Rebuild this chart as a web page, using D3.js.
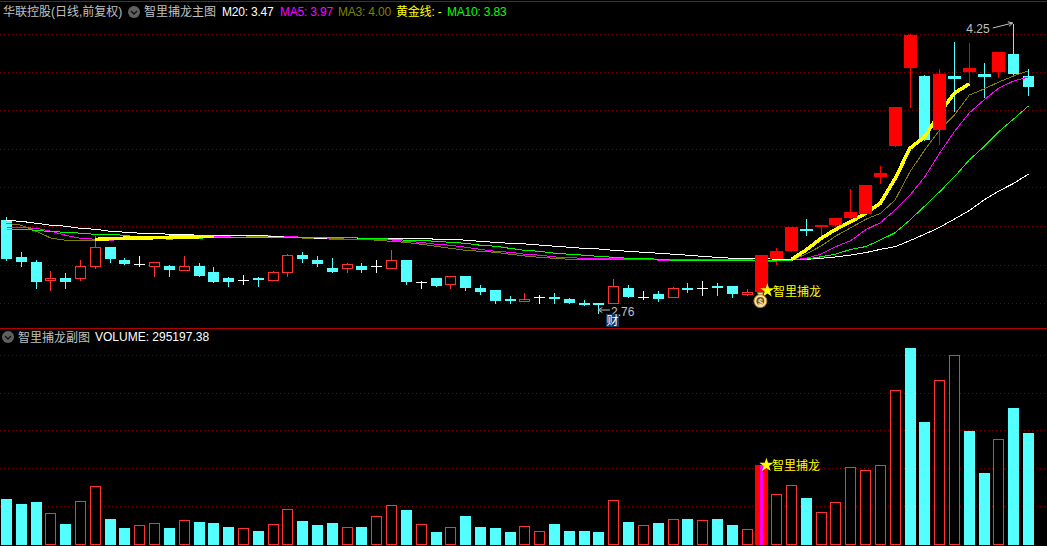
<!DOCTYPE html>
<html lang="zh">
<head>
    <meta charset="UTF-8">
    <title>智里捕龙</title>
    <script src="https://cdn.jsdelivr.net/npm/d3@7"></script>
    <style>
        html, body { margin: 0; padding: 0; background: #000; overflow: hidden; }
        svg { display: block; }
        text { font-family: "Liberation Sans", "Noto Sans CJK SC", sans-serif; font-size: 12px; }
    </style>
</head>
<body>
<script>
    let width = 1047;
    let height = 546;

    // daily candles, price in yuan
    let opens = [3.24,3.05,3.02,2.93,2.94,2.94,3.00,3.10,3.03,3.01,
        3.00,3.00,2.98,3.00,2.97,2.94,2.93,2.94,2.93,2.97,
        3.06,3.03,2.99,2.99,3.00,3.00,2.99,3.03,2.92,2.94,
        2.91,2.95,2.89,2.88,2.83,2.82,2.84,2.84,2.83,2.81,
        2.81,2.81,2.89,2.84,2.86,2.84,2.89,2.89,2.90,2.90,
        2.86,2.87,3.04,3.08,3.19,3.20,3.21,3.25,3.27,3.46,
        3.62,4.02,3.98,3.70,3.98,4.00,3.99,4.00,4.09,3.98];
    let highs = [3.26,3.08,3.04,2.98,2.97,3.04,3.16,3.10,3.05,3.06,
        3.02,3.01,3.06,3.02,3.00,2.95,2.96,2.95,2.98,3.07,
        3.08,3.06,3.05,3.02,3.02,3.04,3.09,3.03,2.93,2.94,
        2.95,2.95,2.91,2.88,2.85,2.87,2.86,2.87,2.84,2.83,
        2.81,2.94,2.91,2.88,2.88,2.90,2.92,2.93,2.92,2.90,
        2.89,3.06,3.10,3.20,3.25,3.21,3.25,3.40,3.42,3.52,
        3.82,4.20,3.99,4.02,4.16,4.15,4.05,4.10,4.25,4.02];
    let lows = [3.03,3.00,2.89,2.88,2.89,2.93,2.99,3.02,3.01,3.00,
        2.95,2.95,2.98,2.95,2.92,2.90,2.91,2.90,2.93,2.95,
        3.02,3.00,2.97,2.97,2.97,2.97,2.99,2.91,2.89,2.90,
        2.89,2.88,2.86,2.81,2.81,2.82,2.81,2.81,2.81,2.80,
        2.76,2.81,2.84,2.83,2.82,2.84,2.87,2.85,2.85,2.84,
        2.85,2.87,3.01,3.08,3.16,3.16,3.19,3.25,3.26,3.43,
        3.62,3.82,3.65,3.63,3.80,3.94,3.87,3.97,3.98,3.88];
    let closes = [3.04,3.02,2.92,2.94,2.92,3.00,3.10,3.04,3.01,3.01,
        3.02,2.98,3.00,2.95,2.92,2.92,2.93,2.93,2.97,3.06,
        3.04,3.01,2.97,3.01,2.98,3.00,3.03,2.92,2.92,2.90,
        2.95,2.89,2.87,2.82,2.82,2.83,2.84,2.83,2.81,2.80,
        2.80,2.90,2.84,2.84,2.83,2.89,2.88,2.89,2.89,2.86,
        2.87,3.06,3.08,3.20,3.18,3.21,3.25,3.28,3.42,3.48,
        3.82,4.19,3.65,3.99,3.96,4.02,3.97,4.10,3.99,3.92];

    // moving averages
    let ma3 = [3.221,3.211,3.180,3.145,3.134,3.134,3.134,3.138,3.140,3.143,
        3.145,3.147,3.149,3.150,3.153,3.150,3.150,3.153,3.150,3.150,
        3.145,3.145,3.144,3.139,3.139,3.134,3.128,3.123,3.113,3.103,
        3.092,3.082,3.077,3.072,3.062,3.053,3.046,3.041,3.036,3.036,
        3.036,3.036,3.036,3.036,3.036,3.036,3.036,3.036,3.036,3.036,
        3.036,3.026,3.027,3.032,3.063,3.104,3.156,3.198,3.241,3.272,
        3.341,3.486,3.598,3.700,3.777,3.880,3.911,3.947,3.978,4.004];
    let ma5 = [3.200,3.200,3.195,3.180,3.159,3.144,3.139,3.134,3.138,3.143,
        3.145,3.145,3.148,3.150,3.153,3.155,3.158,3.159,3.155,3.154,
        3.149,3.144,3.139,3.139,3.139,3.139,3.135,3.128,3.123,3.113,
        3.108,3.098,3.087,3.077,3.072,3.062,3.057,3.048,3.044,3.041,
        3.041,3.041,3.037,3.037,3.032,3.032,3.032,3.032,3.032,3.032,
        3.032,3.032,3.032,3.032,3.041,3.063,3.101,3.132,3.187,3.224,
        3.289,3.366,3.460,3.581,3.692,3.788,3.855,3.916,3.952,3.973];
    let ma10 = [3.190,3.190,3.185,3.178,3.175,3.170,3.164,3.164,3.159,3.149,
        3.144,3.139,3.144,3.144,3.149,3.149,3.149,3.149,3.149,3.149,
        3.149,3.149,3.149,3.149,3.144,3.144,3.139,3.134,3.134,3.128,
        3.123,3.118,3.108,3.103,3.092,3.082,3.077,3.067,3.062,3.057,
        3.051,3.046,3.041,3.041,3.036,3.031,3.031,3.031,3.031,3.031,
        3.031,3.031,3.031,3.032,3.037,3.049,3.063,3.087,3.101,3.135,
        3.173,3.238,3.310,3.383,3.460,3.546,3.615,3.692,3.757,3.824];
    let ma20 = [3.236,3.231,3.221,3.211,3.206,3.195,3.190,3.180,3.175,3.170,
        3.170,3.164,3.164,3.159,3.159,3.159,3.159,3.159,3.154,3.149,
        3.149,3.144,3.146,3.146,3.145,3.144,3.144,3.144,3.144,3.139,
        3.139,3.134,3.128,3.123,3.118,3.115,3.109,3.103,3.098,3.092,
        3.089,3.082,3.077,3.072,3.067,3.062,3.057,3.051,3.046,3.041,
        3.041,3.041,3.036,3.036,3.036,3.041,3.048,3.058,3.070,3.087,
        3.101,3.132,3.165,3.200,3.243,3.286,3.341,3.387,3.426,3.474];
    // 黄金线 only exists on some days
    let goldLine = [null,null,null,null,null,null,3.138,3.142,3.144,3.145,
        3.147,3.149,3.150,3.152,3.154,null,null,null,null,null,
        null,null,null,null,null,null,null,null,null,null,
        null,null,null,null,null,null,null,null,null,null,
        null,null,null,null,null,null,null,null,null,null,
        null,null,null,3.036,3.084,3.144,3.190,3.229,3.272,3.324,
        3.452,3.606,3.666,3.788,3.890,3.937,null,null,null,null];

    let volumes = [120000,106700,112000,81900,53300,113900,151200,66700,42700,49900,
        55200,42700,63200,58700,56000,45300,41900,34700,50700,92500,
        61300,50700,56000,44500,45300,73900,103200,90700,52500,32000,
        44500,74700,45300,42700,32000,47200,33900,53300,34700,34700,
        32000,116500,58700,49900,56000,65900,66700,63200,66700,50700,
        39200,210700,132500,153900,122700,84500,111200,201900,193900,207200,
        407200,520000,325400,433900,500600,301400,189400,276600,362700,295197.38];
    // days with a red volume bar
    let volumeUpDays = [3,5,6,9,10,12,16,18,19,23,25,26,28,30,35,36,41,43,45,47,50,
        51,52,53,55,56,57,58,59,60,63,64,67];

    let signalDay = 51;
    let wideDownDays = [54,64,66];

    let priceGrid = [2.811,3.009,3.205,3.405,3.603,3.801,3.996,4.196];
    let volumeGrid = [100000,200000,300000,400000,500000];

    let legendNames = ["M20","MA5","MA3","黄金线","MA10"];
    let legendValues = [3.47,3.97,4.00,null,3.83];
    let stockTitle = "华联控股(日线,前复权)";
    let mainTitle = "智里捕龙主图";
    let subTitle = "智里捕龙副图";
    let signalName = "智里捕龙";

    let colorUp = "#ff3232";
    let colorSolid = "#ff0000";
    let colorDown = "#54ffff";
    let colorGrid = "#800000";
    let colorLine = "#b00000";

    let days = d3.range(opens.length);

    let svg = d3.select("body").append("svg")
        .attr("width", width)
        .attr("height", height)
        .style("background", "#000");

    let x = d3.scaleLinear().domain([0, days.length - 1]).range([6.5, 1028.5]);
    let yPrice = d3.scaleLinear().domain([2.76, 4.25]).range([313, 23]);
    let yVol = d3.scaleLinear().domain([0, 500000]).range([543.5, 355]);

    let px = function (d) { return Math.floor(x(d)) + 0.5; };
    let py = function (p) { return Math.round(yPrice(p)) + 0.5; };
    let pv = function (v) { return Math.round(yVol(v)) + 0.5; };

    // frame lines
    svg.append("line").attr("x1", 0).attr("x2", width).attr("y1", 1.5).attr("y2", 1.5)
        .attr("stroke", colorLine).attr("shape-rendering", "crispEdges");
    svg.append("line").attr("x1", 0).attr("x2", width).attr("y1", 328.5).attr("y2", 328.5)
        .attr("stroke", colorLine).attr("shape-rendering", "crispEdges");

    // dotted grids through the axes
    let drawGrid = function (scale, values) {
        let g = svg.append("g")
            .call(d3.axisRight(scale).tickValues(values).tickSize(width).tickFormat(""));
        g.select(".domain").remove();
        g.selectAll("line")
            .attr("stroke", colorGrid)
            .attr("stroke-dasharray", "1,3")
            .attr("shape-rendering", "crispEdges");
    };
    drawGrid(yPrice, priceGrid);
    drawGrid(yVol, volumeGrid);

    // candles
    let candleColor = function (d) {
        if (opens[d] === closes[d]) return "#fff";
        if (closes[d] < opens[d]) return colorDown;
        return d >= signalDay ? colorSolid : colorUp;
    };
    let isOverlay = function (d) {
        return (d >= signalDay && closes[d] > opens[d]) || wideDownDays.indexOf(d) >= 0;
    };

    let candles = svg.append("g").attr("shape-rendering", "crispEdges");

    candles.selectAll(".wick").data(days).enter().append("line")
        .attr("class", "wick")
        .attr("x1", px).attr("x2", px)
        .attr("y1", function (d) { return py(highs[d]); })
        .attr("y2", function (d) { return py(lows[d]); })
        .attr("stroke", candleColor);

    let drawBody = function (group, list) {
        group.selectAll(".body").data(list).enter().append("rect")
            .attr("class", "body")
            .each(function (d) {
                let top = py(Math.max(opens[d], closes[d]));
                let bottom = py(Math.min(opens[d], closes[d]));
                let el = d3.select(this);
                if (closes[d] > opens[d] && d < signalDay) {
                    // hollow red
                    el.attr("x", px(d) - 5).attr("width", 10)
                        .attr("y", top).attr("height", bottom - top)
                        .attr("fill", "#000").attr("stroke", colorUp);
                } else if (opens[d] === closes[d]) {
                    el.attr("x", px(d) - 5.5).attr("width", 11)
                        .attr("y", top - 0.5).attr("height", 1)
                        .attr("fill", "#fff");
                } else {
                    let half = isOverlay(d) ? 6.5 : 5.5;
                    el.attr("x", px(d) - half).attr("width", half * 2)
                        .attr("y", top - 0.5).attr("height", Math.max(bottom - top, 2))
                        .attr("fill", candleColor(d));
                }
            });
    };
    drawBody(candles, days.filter(function (d) { return !isOverlay(d); }));

    // moving averages
    let maLine = d3.line()
        .defined(function (d) { return d[1] !== null; })
        .x(function (d) { return x(d[0]); })
        .y(function (d) { return yPrice(d[1]); });

    let drawMa = function (values, color, w) {
        svg.append("path")
            .attr("d", maLine(values.map(function (v, i) { return [i, v]; })))
            .attr("fill", "none")
            .attr("stroke", color)
            .attr("stroke-width", w)
            .attr("shape-rendering", "crispEdges");
    };
    drawMa(ma3, "#808000", 1);
    drawMa(ma5, "#ff00ff", 1);
    drawMa(ma20, "#ffffff", 1);
    drawMa(ma10, "#00ff00", 1);
    drawMa(goldLine, "#ffff00", 3.6);

    // breakout sticks sit on top of the lines
    let overlay = svg.append("g").attr("shape-rendering", "crispEdges");
    drawBody(overlay, days.filter(isOverlay));

    // high / low notes
    let gray = "#c0c0c0";
    let highDay = d3.range(days.length).reduce(function (a, b) { return highs[b] > highs[a] ? b : a; });
    let lowDay = d3.range(days.length).reduce(function (a, b) { return lows[b] < lows[a] ? b : a; });

    let noteLine = function (x1, y1, x2, y2) {
        svg.append("line").attr("x1", x1).attr("y1", y1).attr("x2", x2).attr("y2", y2).attr("stroke", gray);
        let a = Math.atan2(y2 - y1, x2 - x1);
        [0.5, -0.5].forEach(function (o) {
            svg.append("line").attr("x1", x2).attr("y1", y2)
                .attr("x2", x2 - 5 * Math.cos(a + o)).attr("y2", y2 - 5 * Math.sin(a + o))
                .attr("stroke", gray);
        });
    };
    svg.append("text").text(highs[highDay].toFixed(2))
        .attr("x", x(highDay) - 24).attr("y", yPrice(highs[highDay]) + 10)
        .attr("text-anchor", "end").attr("fill", gray);
    noteLine(x(highDay) - 21, yPrice(highs[highDay]) + 5, x(highDay) - 1, yPrice(highs[highDay]));

    noteLine(x(lowDay) + 11, yPrice(lows[lowDay]) - 3, x(lowDay) - 1, yPrice(lows[lowDay]) - 3);
    svg.append("text").text(lows[lowDay].toFixed(2))
        .attr("x", x(lowDay) + 12).attr("y", yPrice(lows[lowDay]) + 3)
        .attr("fill", gray);

    // 财 badge under the day after the low
    svg.append("rect").attr("x", px(lowDay + 1) - 7.5).attr("y", 314).attr("width", 13).attr("height", 13)
        .attr("fill", "#0c3a66");
    svg.append("text").text("财").attr("x", px(lowDay + 1) - 1).attr("y", 325)
        .attr("text-anchor", "middle").attr("fill", "#fff");

    // volume bars
    let vols = svg.append("g").attr("shape-rendering", "crispEdges");
    vols.selectAll("rect").data(days).enter().append("rect")
        .attr("x", function (d) {
            if (d === signalDay) return px(d) - 6.5;
            return volumeUpDays.indexOf(d) >= 0 ? px(d) - 5 : px(d) - 5.5;
        })
        .attr("width", function (d) {
            if (d === signalDay) return 13;
            return volumeUpDays.indexOf(d) >= 0 ? 10 : 11;
        })
        .attr("y", function (d) { return pv(volumes[d]); })
        .attr("height", function (d) { return pv(0) - pv(volumes[d]); })
        .attr("fill", function (d) {
            if (d === signalDay) return colorSolid;
            return volumeUpDays.indexOf(d) >= 0 ? "#000" : colorDown;
        })
        .attr("stroke", function (d) {
            return volumeUpDays.indexOf(d) >= 0 && d !== signalDay ? colorUp : "none";
        });
    vols.append("rect")
        .attr("x", px(signalDay) - 1.5).attr("width", 3)
        .attr("y", pv(volumes[signalDay])).attr("height", pv(0) - pv(volumes[signalDay]))
        .attr("fill", "#ff00ff");

    // signal marks
    let star = d3.symbol().type(d3.symbolStar).size(62);
    let drawSignal = function (cx, cy) {
        svg.append("path").attr("d", star())
            .attr("transform", "translate(" + cx + "," + cy + ")")
            .attr("fill", "#ffff00");
        svg.append("text").text(signalName)
            .attr("x", cx + 5.5).attr("y", cy + 5)
            .attr("fill", "#ffff00");
    };
    drawSignal(x(signalDay) + 5.5, yPrice(lows[signalDay]) - 1);
    drawSignal(x(signalDay) + 4.5, yVol(volumes[signalDay]) + 1);

    // money bag under the signal candle
    let bag = svg.append("g")
        .attr("transform", "translate(" + (x(signalDay) - 1.5) + "," + (yPrice(lows[signalDay]) + 9) + ")");
    bag.append("path").attr("d", "M-3,-8 L3,-8 L1.5,-4.5 L-1.5,-4.5 Z")
        .attr("fill", "#f5dfa0").attr("stroke", "#a87a30").attr("stroke-width", 0.8);
    bag.append("circle").attr("r", 6.5).attr("cy", 0.5)
        .attr("fill", "#f7e2a0").attr("stroke", "#a87a30").attr("stroke-width", 1);
    bag.append("circle").attr("r", 4).attr("cy", 0.5).attr("fill", "#7a4e20");
    bag.append("text").text("$").attr("y", 4).attr("text-anchor", "middle")
        .style("font-size", "9px").attr("font-weight", "bold").attr("fill", "#f7e2a0");

    // header texts
    let chevron = function (cx, cy) {
        svg.append("circle").attr("cx", cx).attr("cy", cy).attr("r", 6).attr("fill", "#606060");
        svg.append("path")
            .attr("d", "M" + (cx - 3) + "," + (cy - 1) + "L" + cx + "," + (cy + 2) + "L" + (cx + 3) + "," + (cy - 1))
            .attr("fill", "none").attr("stroke", "#101010").attr("stroke-width", 1.4);
    };
    svg.append("text").text(stockTitle).attr("x", 3).attr("y", 16).attr("fill", gray);
    chevron(134, 12);
    svg.append("text").text(mainTitle).attr("x", 144).attr("y", 16).attr("fill", gray);

    let legendColors = ["#ffffff", "#ff00ff", "#808000", "#ffff00", "#00ff00"];
    let legendX = [222, 280, 338, 396, 447];
    legendNames.forEach(function (name, i) {
        let v = legendValues[i];
        svg.append("text")
            .text(name + ": " + (v === null ? "-" : v.toFixed(2)))
            .attr("x", legendX[i]).attr("y", 16)
            .attr("letter-spacing", "-0.2")
            .attr("fill", legendColors[i]);
    });

    chevron(8, 337);
    svg.append("text").text(subTitle).attr("x", 18).attr("y", 342).attr("fill", gray);
    svg.append("text").text("VOLUME: " + volumes[volumes.length - 1].toFixed(2))
        .attr("x", 95).attr("y", 341).attr("fill", "#fff");
</script>
</body>
</html>
